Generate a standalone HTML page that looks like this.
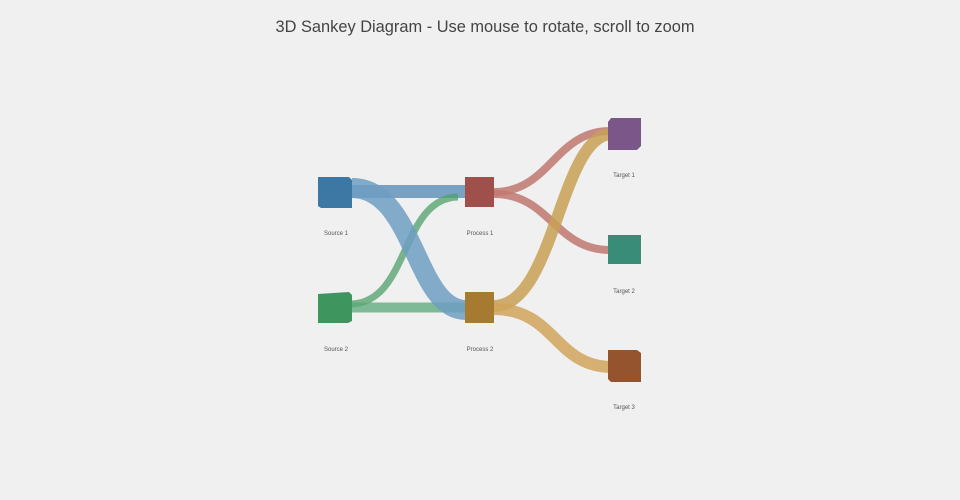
<!DOCTYPE html>
<html><head><meta charset="utf-8"><style>
html,body{margin:0;padding:0;background:#f0f0f0;}
svg{display:block;}
</style></head><body>
<svg width="960" height="500" viewBox="0 0 960 500" xmlns="http://www.w3.org/2000/svg">
<rect width="960" height="500" fill="#f0f0f0"/>
<text x="485" y="32" text-anchor="middle" font-family="'Liberation Sans', sans-serif" font-size="16.4" fill="#444">3D Sankey Diagram - Use mouse to rotate, scroll to zoom</text>
<g fill="none" stroke-linecap="butt">
<path d="M350 191.5 L466 191.5" stroke="#6a98bd" stroke-width="13" stroke-opacity="0.9"/>
<path d="M350 304 C410 304 400 198 458 197" stroke="#4fa06a" stroke-width="7" stroke-opacity="0.75"/>
<path d="M350 307.5 L466 307.5" stroke="#5aa878" stroke-width="10" stroke-opacity="0.75"/>
<path d="M352 188 C415 188 415 310 466 310" stroke="#6e9dc2" stroke-width="20" stroke-opacity="0.85"/>
<path d="M494 192 C550 192 555 131 610 131" stroke="#c07870" stroke-width="8" stroke-opacity="0.85"/>
<path d="M494 194 C550 194 555 250 610 250" stroke="#c07870" stroke-width="8" stroke-opacity="0.85"/>
<path d="M494 306 C555 306 560 134 612 134" stroke="#c8a055" stroke-width="12" stroke-opacity="0.85"/>
<path d="M494 309 C555 309 555 367 612 367" stroke="#d0a55c" stroke-width="12" stroke-opacity="0.85"/>
</g>
<g>
<path d="M318 177 L349 177 L352 180 L352 208 L321 208 L318 206 Z" fill="#3d77a3"/>
<path d="M318 294 L349 292 L352 295 L352 321 L348 323 L318 323 Z" fill="#3f955e"/>
<rect x="465" y="177" width="29" height="30" fill="#a0504a"/>
<rect x="465" y="292" width="29" height="31" fill="#a67a30"/>
<path d="M611 118 L641 118 L641 146 L637 150 L608 150 L608 122 Z" fill="#7b5689"/>
<rect x="608" y="235" width="33" height="29" fill="#388c78"/>
<path d="M608 350 L637 350 L641 353 L641 382 L611 382 L608 379 Z" fill="#95532e"/>
</g>
<g font-family="'Liberation Sans', sans-serif" font-size="6" fill="#555" text-anchor="middle">
<text x="336" y="235">Source 1</text>
<text x="336" y="351">Source 2</text>
<text x="480" y="235">Process 1</text>
<text x="480" y="351">Process 2</text>
<text x="624" y="177">Target 1</text>
<text x="624" y="293">Target 2</text>
<text x="624" y="409">Target 3</text>
</g>
</svg>
</body></html>
